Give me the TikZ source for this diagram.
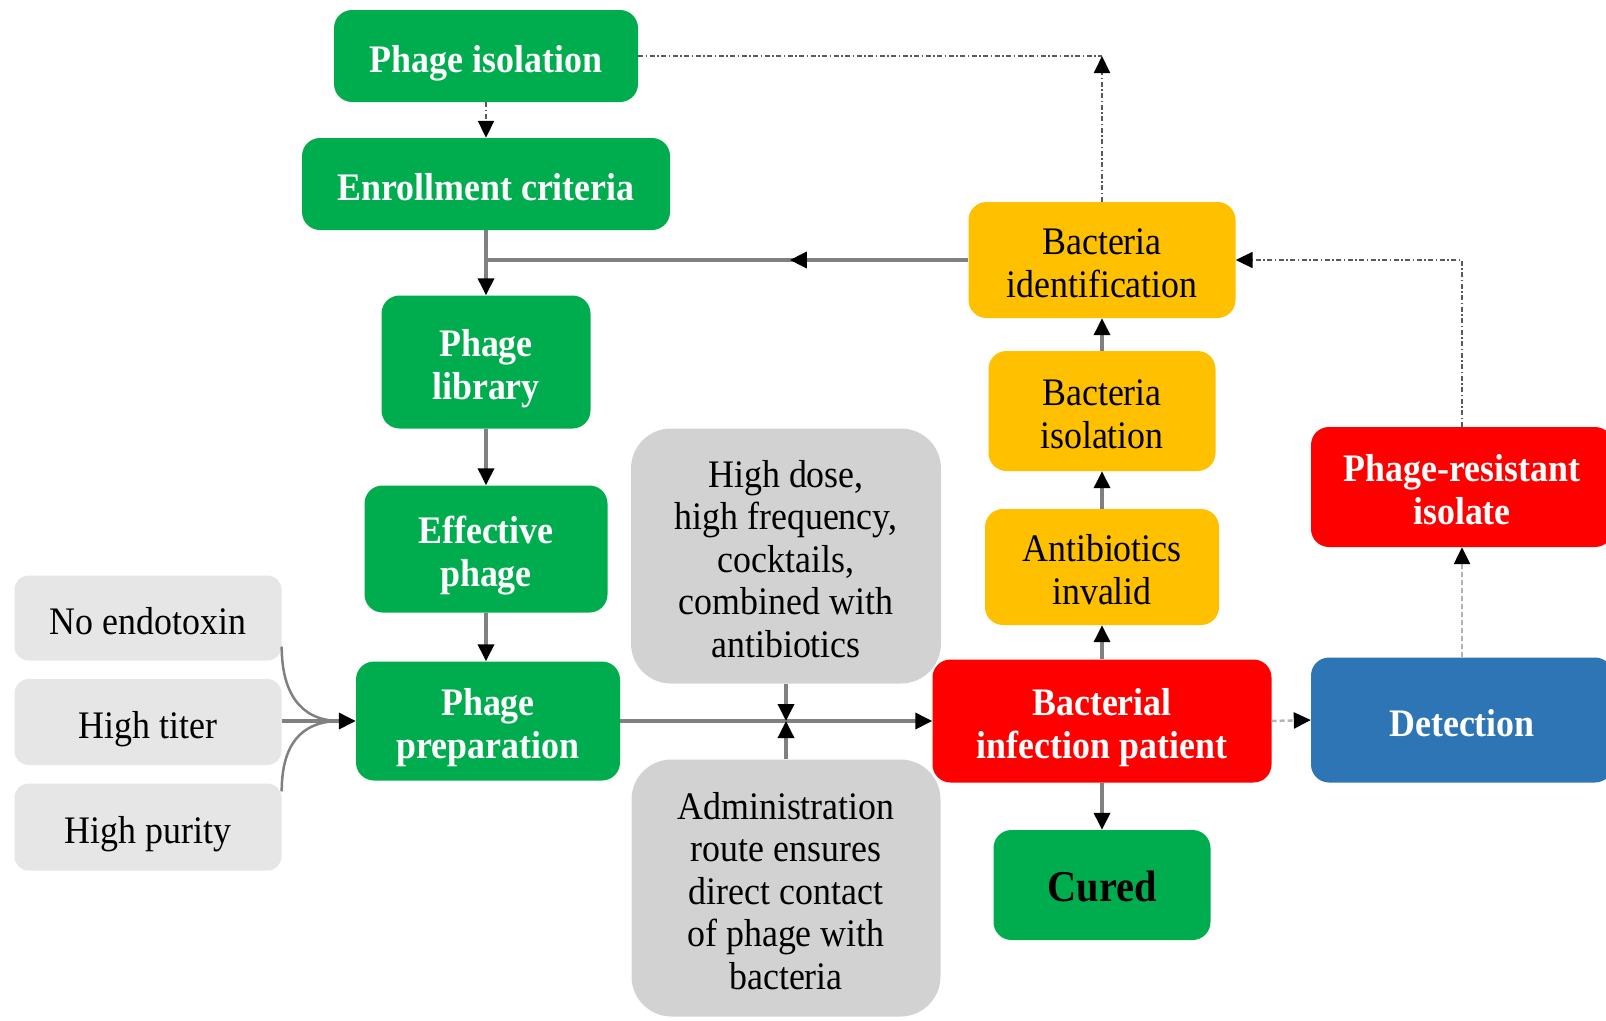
\documentclass[tikz,border=0pt]{standalone}
\usepackage{fontspec}
\setmainfont{Liberation Serif}[FakeStretch=0.92]
\usetikzlibrary{arrows.meta,decorations.markings}
\definecolor{cgreen}{HTML}{00AD4E}
\definecolor{cyellow}{HTML}{FFC000}
\definecolor{cred}{HTML}{FF0000}
\definecolor{cblue}{HTML}{2E75B6}
\definecolor{cgrayA}{HTML}{E6E6E6}
\definecolor{cgrayB}{HTML}{D2D2D2}
\definecolor{cline}{HTML}{808080}
\definecolor{cdash}{HTML}{5A5A5A}
\definecolor{clight}{HTML}{B4B4B4}
\newcommand{\TopS}{\rule{0pt}{42pt}}
\begin{document}
\begin{tikzpicture}[x=1pt,y=-1pt,
  box/.style={rectangle, rounded corners=18pt, align=center, inner sep=0pt,
    font=\fontsize{39}{42.5}\selectfont,
    execute at end node={\rule[-10pt]{0pt}{10pt}}},
  gbox/.style={box, fill=cgreen, text=white, font=\fontsize{39}{43}\selectfont\bfseries},
  ybox/.style={box, fill=cyellow, text=black},
  rbox/.style={box, fill=cred, text=white, font=\fontsize{39}{43}\selectfont\bfseries},
  bbox/.style={box, fill=cblue, text=white, font=\fontsize{39}{43}\selectfont\bfseries},
  lgbox/.style={box, fill=cgrayA, rounded corners=14pt},
  mgbox/.style={box, fill=cgrayB, rounded corners=40pt},
  sz/.style 2 args={minimum width=#1pt, minimum height=#2pt},
  tip/.style={-{Triangle[length=17pt,width=16pt,color=black]}},
  link/.style={draw=cline, line width=3.5pt, tip},
  plainlink/.style={draw=cline, line width=3.5pt},
  dlink/.style={draw=cdash, line width=2pt, dash pattern=on 5pt off 2.5pt on 1.5pt off 2.5pt, tip},
  dplain/.style={draw=cdash, line width=2pt, dash pattern=on 5pt off 2.5pt on 1.5pt off 2.5pt},
  lightlink/.style={draw=clight, line width=2.5pt, dash pattern=on 5pt off 3pt, tip},
]
\useasboundingbox (0,0) rectangle (1606,1020);

% left column
\node[gbox, sz={304}{92}]  (pi) at (486,56)  {\TopS Phage isolation};
\node[gbox, sz={368}{92}]  (ec) at (486,184) {\TopS Enrollment criteria};
\node[gbox, sz={209}{133}] (pl) at (486,362) {\TopS Phage\\library};
\node[gbox, sz={243}{127}] (ep) at (486,549) {\TopS Effective\\phage};
\node[gbox, sz={264}{119}] (pp) at (488,721) {\TopS Phage\\preparation};

% left grey boxes
\node[lgbox, sz={267}{85}] (ne) at (148,618) {\TopS No endotoxin};
\node[lgbox, sz={267}{86}] (ht) at (148,722) {\TopS High titer};
\node[lgbox, sz={267}{87}] (hp) at (148,827) {\TopS High purity};

% middle grey boxes
\node[mgbox, sz={310}{255}] (gt) at (786,556) {\TopS High dose,\\high frequency,\\cocktails,\\combined with\\antibiotics};
\node[mgbox, sz={309}{257}] (gb) at (786,888) {\TopS Administration\\route ensures\\direct contact\\of phage with\\bacteria};

% right column
\node[ybox, sz={267}{116}] (bid) at (1102,260) {\TopS Bacteria\\identification};
\node[ybox, sz={227}{120}] (bis) at (1102,411) {\TopS Bacteria\\isolation};
\node[ybox, sz={234}{116}] (ai)  at (1102,567) {\TopS Antibiotics\\invalid};
\node[rbox, sz={339}{123}] (bip) at (1102,721) {\TopS Bacterial\\infection patient};
\node[gbox, sz={217}{110}, text=black, font=\fontsize{44}{50}\selectfont\bfseries] (cu) at (1102,885) {\TopS Cured};

% far right
\node[rbox, sz={302}{120}] (pr) at (1462,487) {\TopS Phage-resistant\\isolate};
\node[bbox, sz={302}{125}] (de) at (1462,720) {\TopS Detection};

% connectors, left column
\draw[dlink] (pi.south) -- (ec.north);
\draw[link] (ec.south) -- (pl.north);
\coordinate (j1) at (ec.south |- bid.west);
\draw[plainlink, postaction={decorate},
  decoration={markings, mark=at position 0.37 with {\arrow{Triangle[length=17pt,width=16pt,color=black]}}}]
  (bid.west) -- (j1);
\draw[link] (pl.south) -- (pl.south |- ep.north);
\draw[link] (ep.south) -- (ep.south |- pp.north);

% inputs to phage preparation
\coordinate (m1) at ([xshift=-16pt]pp.west);
\draw[plainlink, line width=2.5pt] ([yshift=14pt]ne.south east) .. controls +(0,45) and +(-40,0) .. (m1);
\draw[plainlink, line width=2.5pt] ([yshift=-8pt]hp.north east) .. controls +(0,-45) and +(-40,0) .. (m1);
\draw[link] (ht.east |- pp.west) -- (pp.west);

% main horizontal
\draw[link] (pp.east) -- (bip.west);
\draw[link] (gt.south) -- (gt.south |- pp.east);
\draw[link] (gb.north) -- (gb.north |- pp.east);

% right column
\draw[link] (bip.north) -- (ai.south);
\draw[link] (ai.north) -- (bis.south);
\draw[link] (bis.north) -- (bid.south);
\draw[link] (bip.south) -- (cu.north);

% feedback loops
\coordinate (t1) at (bid.north |- pi.east);
\draw[dplain] (pi.east) -- (t1);
\draw[dlink] (bid.north) -- (t1);
\coordinate (t2) at (pr.north |- bid.east);
\draw[dlink] (pr.north) -- (t2) -- (bid.east);
\draw[lightlink] (bip.east) -- (de.west);
\draw[lightlink] (de.north) -- (pr.south);
\end{tikzpicture}
\end{document}
